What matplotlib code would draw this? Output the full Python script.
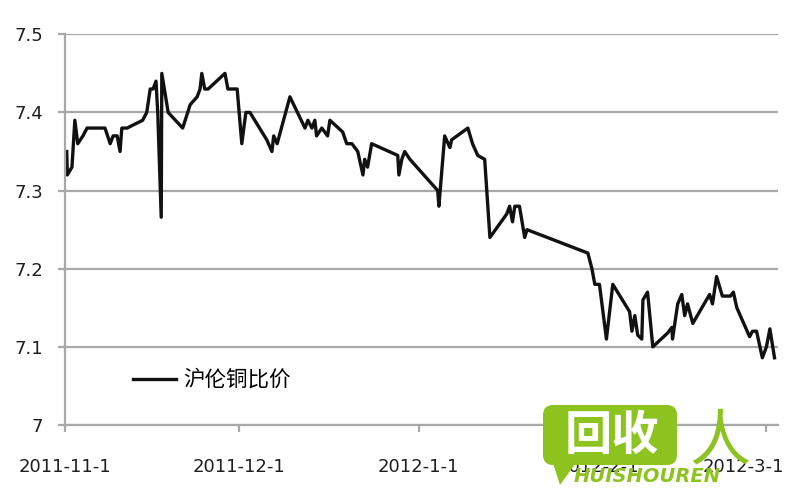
import pandas as pd
import matplotlib
matplotlib.use('Agg')
import matplotlib.pyplot as plt
from matplotlib.patches import FancyBboxPatch, Polygon
from matplotlib.transforms import IdentityTransform, ScaledTranslation

plt.rcParams['font.family'] = ['DejaVu Sans', 'Noto Sans CJK SC']

# days since 2011-11-1 and the SHFE/LME copper price ratio
start_date = pd.Timestamp('2011-11-01')
day_offsets = [0.3, 0.4, 1.2, 1.7, 2.2, 3.1, 3.8, 6.9, 7.8, 8.3, 9.0, 9.5, 9.8, 10.7,
               13.4, 14.1, 14.7, 15.2, 15.7, 16.0, 16.6, 16.7, 17.8, 20.3, 21.6, 22.8,
               23.3, 23.6, 24.1, 24.7, 27.6, 28.1, 29.7, 30.5, 31.2, 31.9, 34.8, 35.7,
               36.0, 36.6, 38.8, 41.4, 41.9, 42.6, 43.1, 43.4, 44.3, 45.3, 45.7, 47.9,
               48.6, 49.5, 50.5, 51.4, 51.7, 52.2, 52.9, 57.4, 57.6, 58.1, 58.6, 59.5,
               64.3, 64.5, 65.5, 66.4, 66.7, 69.5, 70.3, 71.2, 72.4, 73.3, 76.2, 76.7,
               77.2, 77.6, 78.4, 79.3, 79.7, 90.2, 90.9, 91.4, 92.2, 93.4, 94.5, 97.4,
               97.8, 98.3, 98.8, 99.5, 99.7, 100.5, 101.4, 104.0, 104.7, 104.8, 105.7,
               106.4, 106.9, 107.4, 108.3, 111.2, 111.7, 112.4, 113.4, 114.8, 115.3,
               115.9, 118.1, 118.6, 119.3, 120.3, 121.0, 121.6, 122.4]
ratio = [7.350, 7.320, 7.330, 7.390, 7.360, 7.370, 7.380, 7.380, 7.360, 7.370, 7.370,
         7.350, 7.380, 7.380, 7.390, 7.400, 7.430, 7.430, 7.440, 7.400, 7.266, 7.450,
         7.400, 7.380, 7.410, 7.420, 7.430, 7.450, 7.430, 7.430, 7.450, 7.430, 7.430,
         7.360, 7.400, 7.400, 7.365, 7.350, 7.370, 7.360, 7.420, 7.380, 7.390, 7.380,
         7.390, 7.370, 7.380, 7.370, 7.390, 7.375, 7.360, 7.360, 7.350, 7.320, 7.340,
         7.330, 7.360, 7.345, 7.320, 7.340, 7.350, 7.340, 7.300, 7.280, 7.370, 7.355,
         7.365, 7.380, 7.360, 7.345, 7.340, 7.240, 7.270, 7.280, 7.260, 7.280, 7.280,
         7.240, 7.250, 7.220, 7.200, 7.180, 7.180, 7.110, 7.180, 7.145, 7.120, 7.140,
         7.115, 7.110, 7.160, 7.170, 7.100, 7.118, 7.125, 7.110, 7.155, 7.167, 7.140,
         7.155, 7.130, 7.167, 7.155, 7.190, 7.165, 7.165, 7.170, 7.150, 7.113, 7.120,
         7.120, 7.086, 7.100, 7.123, 7.086]

tick_dates = ['2011-11-01', '2011-12-01', '2012-01-01', '2012-02-01', '2012-03-01']
tick_labels = ['2011-11-1', '2011-12-1', '2012-1-1', '2012-2-1', '2012-3-1']
y_ticks = [7.0, 7.1, 7.2, 7.3, 7.4, 7.5]
y_labels = ['7', '7.1', '7.2', '7.3', '7.4', '7.5']
series_name = '沪伦铜比价'

dates = start_date + pd.to_timedelta(day_offsets, unit='D')

fig = plt.figure(figsize=(8, 5), dpi=100)
ax = fig.add_axes([0.08125, 0.15, 0.89125, 0.7814])

ax.plot(dates, ratio, color='#111111', lw=2.4, label=series_name)

grid_c = '#a8a8a8'
ax.set_ylim(7.0, 7.5)
ax.set_xlim(start_date, start_date + pd.Timedelta(days=123))
ax.set_yticks(y_ticks, y_labels)
ax.set_xticks(pd.to_datetime(tick_dates), tick_labels)
ax.grid(axis='y', color=grid_c, lw=1.6)
ax.set_axisbelow(True)
for side in ['top', 'right']:
    ax.spines[side].set_visible(False)
for side in ['left', 'bottom']:
    ax.spines[side].set_color(grid_c)
    ax.spines[side].set_linewidth(1.6)
ax.tick_params(axis='y', length=5, width=1.6, color=grid_c, pad=11,
               labelsize=13, labelcolor='#1e1e1e')
ax.tick_params(axis='x', length=5, width=1.6, color=grid_c, pad=19,
               labelsize=13, labelcolor='#1e1e1e')

# last date label is pulled left so it stays inside the picture
last = ax.get_xticklabels()[-1]
last.set_transform(last.get_transform() + ScaledTranslation(-0.23, 0, fig.dpi_scale_trans))

ax.legend(loc='center left', bbox_to_anchor=(0.095, 0.115), frameon=False,
          borderpad=0, borderaxespad=0, handlelength=2.0, handletextpad=0.35,
          prop={'family': ['Noto Sans CJK SC', 'DejaVu Sans'], 'size': 15.5})

# site watermark over the lower right corner
green = '#8cc31f'
px = IdentityTransform()
box = FancyBboxPatch((543, 35), 134, 60, boxstyle='round,pad=0,rounding_size=10',
                     transform=px, facecolor=green, edgecolor='none', zorder=5)
tail = Polygon([(552, 40), (578, 40), (560, 15)], closed=True, transform=px,
               facecolor=green, edgecolor='none', zorder=5)
fig.patches.extend([box, tail])
fig.text(612, 64, '回收', transform=px, ha='center', va='center', fontsize=34,
         color='white', fontweight='bold', family=['Noto Sans CJK SC'], zorder=6)
fig.text(720, 58, '人', transform=px, ha='center', va='center', fontsize=44,
         color=green, family=['Noto Sans CJK SC'], zorder=6)
fig.text(647, 24, 'HUISHOUREN', transform=px, ha='center', va='center', fontsize=14,
         color=green, fontweight='bold', fontstyle='italic', zorder=6)

fig.savefig('out.png', dpi=100)
